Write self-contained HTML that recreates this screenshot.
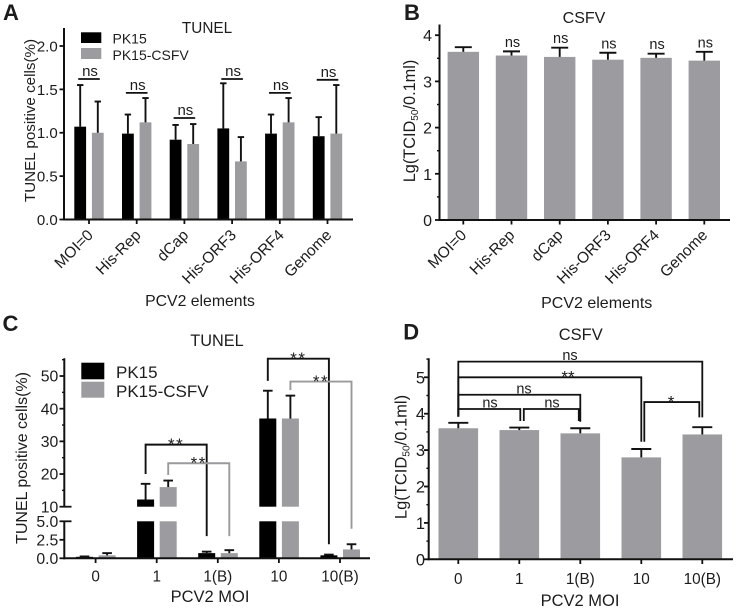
<!DOCTYPE html>
<html lang="en">
<head>
<meta charset="utf-8">
<title>PCV2 TUNEL and CSFV panels</title>
<style>
html,body{margin:0;padding:0;background:#fff;width:738px;height:610px;overflow:hidden}
svg{display:block}
text{font-family:"Liberation Sans",Arial,sans-serif;fill:#1c1c1c}
</style>
</head>
<body>
<svg id="figure" width="738" height="610" viewBox="0 0 738 610" xmlns="http://www.w3.org/2000/svg">
  <g id="panel-a"></g>
  <g id="panel-b"></g>
  <g id="panel-c"></g>
  <g id="panel-d"></g>
</svg>
<script>
// Panel A data
const catsAB = ['MOI=0', 'His-Rep', 'dCap', 'His-ORF3', 'His-ORF4', 'Genome'];
const ticksA = ['0.0', '0.5', '1.0', '1.5', '2.0'];
const aBlack = [1.07, 0.99, 0.92, 1.05, 0.99, 0.96];
const aBlackTop = [1.55, 1.21, 1.09, 1.57, 1.21, 1.18];
const aGray = [1.00, 1.12, 0.87, 0.67, 1.12, 0.99];
const aGrayTop = [1.36, 1.40, 1.10, 0.95, 1.40, 1.55];
const aNs = [1.62, 1.46, 1.17, 1.62, 1.46, 1.61];
// Panel B data
const ticksB = ['0', '1', '2', '3', '4'];
const bVals = [3.64, 3.56, 3.53, 3.47, 3.51, 3.45];
const bTop = [3.74, 3.65, 3.73, 3.62, 3.60, 3.64];
const bSig = ['', 'ns', 'ns', 'ns', 'ns', 'ns'];
// Panel C data
const catsCD = ['0', '1', '1(B)', '10', '10(B)'];
const ticksCLow = ['0.0', '2.5', '5.0'];
const ticksCHigh = ['10', '20', '30', '40', '50'];
const cBlack = [0.2, 12.2, 0.7, 37, 0.4];
const cBlackTop = [0.25, 17, 0.9, 45.5, 0.5];
const cGray = [0.4, 16, 0.7, 37, 1.2];
const cGrayTop = [0.7, 18, 1.1, 44, 1.9];
// from category, to category, series, bracket top, left drop, right drop (low scale)
const cBrackets = [
  [1, 2, 'black', 29, 20, 3.0],
  [1, 2, 'gray', 23.3, 19.7, 3.0],
  [3, 4, 'black', 55.3, 48.5, 1.9],
  [3, 4, 'gray', 48.3, 45.7, 4.0]
];
// Panel D data
const ticksD = ['0', '1', '2', '3', '4', '5'];
const dVals = [3.60, 3.55, 3.46, 2.80, 3.43];
const dTop = [3.75, 3.62, 3.60, 3.03, 3.63];
// from category, to category, top, left drop, right drop, label
const dBrackets = [
  [0, 4, 5.43, 3.92, 3.90, 'ns'],
  [0, 3, 5.00, 3.92, 3.23, '**'],
  [0, 2, 4.52, 3.92, 3.78, 'ns'],
  [0, 1, 4.13, 3.92, 3.80, 'ns'],
  [1, 2, 4.13, 3.80, 3.80, 'ns'],
  [3, 4, 4.32, 3.23, 3.90, '*']
];

const NS = 'http://www.w3.org/2000/svg';
const INK = '#111';
const BAR_GRAY = '#9c9ca0';
const AXIS_W = 2;

function add(parent, tag, attrs, name) {
  const el = document.createElementNS(NS, tag);
  for (const k in attrs) el.setAttribute(k, attrs[k]);
  
  
  parent.appendChild(el);
  return el;
}
function line(p, x1, y1, x2, y2, name, w, color) {
  return add(p, 'line', {x1, y1, x2, y2, stroke: color || INK, 'stroke-width': w || 1.8}, name);
}
function rect(p, x, y, w, h, fill, name) {
  return add(p, 'rect', {x, y, width: w, height: h, fill}, name);
}
function label(p, x, y, str, size, anchor, name, extra) {
  const t = add(p, 'text', Object.assign({x, y, 'font-size': size, 'text-anchor': anchor || 'middle'}, extra || {}), name);
  t.textContent = str;
  return t;
}
function errorBar(p, x, yBase, yTop, cap, name) {
  line(p, x, yBase, x, yTop, name + '-stem', 1.9);
  line(p, x - cap, yTop, x + cap, yTop, name + '-cap', 1.9);
}
function yLabelTcid(p, x, y, size) {
  const t = add(p, 'text', {transform: 'translate(' + x + ',' + y + ') rotate(-90)', 'font-size': size, 'text-anchor': 'middle'}, 'y-axis-title');
  const a = document.createElementNS(NS, 'tspan');
  a.textContent = 'Lg(TCID';
  t.appendChild(a);
  const b = document.createElementNS(NS, 'tspan');
  b.setAttribute('font-size', size * 0.62);
  b.setAttribute('dy', 3);
  b.textContent = '50';
  t.appendChild(b);
  const c = document.createElementNS(NS, 'tspan');
  c.setAttribute('dy', -3);
  c.textContent = '/0.1ml)';
  t.appendChild(c);
}
function rotLabel(p, x, y, str, size) {
  add(p, 'text', {transform: 'translate(' + x + ',' + y + ') rotate(-45)', 'font-size': size, 'text-anchor': 'end'}, 'x-tick-label').textContent = str;
}

/* ---------- Panel A ---------- */
(function () {
  const p = document.getElementById('panel-a');
  const yA = v => 219.5 - v * 86.75;
  const xA = i => 89 + i * 47.7;
  label(p, 3, 20, 'A', 22, 'start', 'panel-letter-a', {'font-weight': 'bold'});
  label(p, 207, 33, 'TUNEL', 15.3, 'middle', 'chart-title');
  catsAB.forEach((c, i) => {
    const bx = xA(i) - 8.8, gx = xA(i) + 8.8;
    rect(p, bx - 5.9, yA(aBlack[i]), 11.8, yA(0) - yA(aBlack[i]), '#000', 'bar-pk15-' + i);
    rect(p, gx - 5.9, yA(aGray[i]), 11.8, yA(0) - yA(aGray[i]), BAR_GRAY, 'bar-pk15-csfv-' + i);
    errorBar(p, bx, yA(aBlack[i]), yA(aBlackTop[i]), 3.2, 'error-pk15-' + i);
    errorBar(p, gx, yA(aGray[i]), yA(aGrayTop[i]), 3.2, 'error-pk15-csfv-' + i);
    line(p, xA(i) - 10.8, yA(aNs[i]), xA(i) + 10.8, yA(aNs[i]), 'ns-line-' + i);
    label(p, xA(i) + 1, yA(aNs[i]) - 3, 'ns', 15, 'middle', 'ns-label-' + i);
    line(p, xA(i), 219.5, xA(i), 224, 'x-tick-' + i);
    rotLabel(p, xA(i) + 5, 236, c, 15.5);
  });
  line(p, 64, 28, 64, 220.5, 'y-axis', AXIS_W);
  line(p, 63, 219.5, 353, 219.5, 'x-axis', AXIS_W);
  ticksA.forEach(t => {
    const y = yA(parseFloat(t));
    line(p, 59.5, y, 64, y, 'y-tick');
    label(p, 57.7, y + 5.4, t, 15, 'end', 'y-tick-label');
  });
  add(p, 'text', {transform: 'translate(35,120.5) rotate(-90)', 'font-size': 15.2, 'text-anchor': 'middle'}, 'y-axis-title').textContent = 'TUNEL positive cells(%)';
  label(p, 200, 306, 'PCV2 elements', 15.8, 'middle', 'x-axis-title');
  rect(p, 81, 32.3, 20.3, 10.7, '#000', 'legend-swatch-pk15');
  rect(p, 81, 48, 20.3, 11, BAR_GRAY, 'legend-swatch-pk15-csfv');
  label(p, 112.5, 43.5, 'PK15', 14, 'start', 'legend-label-pk15');
  label(p, 112.5, 60, 'PK15-CSFV', 14, 'start', 'legend-label-pk15-csfv');
})();

/* ---------- Panel B ---------- */
(function () {
  const p = document.getElementById('panel-b');
  const yB = v => 220 - v * 46.2;
  const xB = i => 463.3 + i * 48.2;
  label(p, 404, 20, 'B', 22, 'start', 'panel-letter-b', {'font-weight': 'bold'});
  label(p, 584, 23, 'CSFV', 16, 'middle', 'chart-title');
  catsAB.forEach((c, i) => {
    rect(p, xB(i) - 15.7, yB(bVals[i]), 31.4, yB(0) - yB(bVals[i]), BAR_GRAY, 'bar-' + i);
    errorBar(p, xB(i), yB(bVals[i]), yB(bTop[i]), 8.5, 'error-' + i);
    if (bSig[i]) label(p, xB(i) + 1, yB(bTop[i]) - 4.5, bSig[i], 14.5, 'middle', 'ns-label-' + i);
    line(p, xB(i), 220, xB(i), 224.5, 'x-tick-' + i);
    rotLabel(p, xB(i) + 4, 236, c, 15.5);
  });
  line(p, 439.5, 24.5, 439.5, 221, 'y-axis', AXIS_W);
  line(p, 438.5, 220, 730, 220, 'x-axis', AXIS_W);
  ticksB.forEach(t => {
    const v = parseFloat(t);
    line(p, 435, yB(v), 439.5, yB(v), 'y-tick');
    label(p, 432, yB(v) + 6, t, 16, 'end', 'y-tick-label');
    if (v < 4) line(p, 437, yB(v + 0.5), 439.5, yB(v + 0.5), 'y-minor-tick', 1.4);
  });
  yLabelTcid(p, 415, 121, 16.3);
  label(p, 596.7, 308, 'PCV2 elements', 16, 'middle', 'x-axis-title');
})();

/* ---------- Panel C ---------- */
(function () {
  const p = document.getElementById('panel-c');
  const yLow = v => 558.3 - v * 7.4;
  const yHigh = v => 506.7 - (v - 10) * 3.267;
  const yC = v => v <= 5 ? yLow(v) : yHigh(v);
  const xC = i => 95.8 + i * 61.1;
  const off = {black: -11.3, gray: 11.3};
  label(p, 2.5, 331, 'C', 22, 'start', 'panel-letter-c', {'font-weight': 'bold'});
  label(p, 217, 346, 'TUNEL', 16.3, 'middle', 'chart-title');

  function brokenBar(cx, v, fill, name) {
    const w = 17;
    rect(p, cx - w / 2, yLow(Math.min(v, 5)), w, yLow(0) - yLow(Math.min(v, 5)), fill, name + '-lower');
    if (v > 10) rect(p, cx - w / 2, yHigh(v), w, yHigh(10) - yHigh(v), fill, name + '-upper');
  }
  catsCD.forEach((c, i) => {
    const bx = xC(i) + off.black, gx = xC(i) + off.gray;
    brokenBar(bx, cBlack[i], '#000', 'bar-pk15-' + i);
    brokenBar(gx, cGray[i], BAR_GRAY, 'bar-pk15-csfv-' + i);
    errorBar(p, bx, yC(cBlack[i]), yC(cBlackTop[i]), 4.8, 'error-pk15-' + i);
    errorBar(p, gx, yC(cGray[i]), yC(cGrayTop[i]), 4.8, 'error-pk15-csfv-' + i);
    line(p, xC(i) - 0.2, 558.3, xC(i) - 0.2, 563, 'x-tick-' + i);
    label(p, xC(i) - 0.2, 581.7, c, 15.3, 'middle', 'x-tick-label-' + i);
  });
  cBrackets.forEach((b, n) => {
    const col = b[2] === 'black' ? INK : '#9a9a9d';
    const x1 = xC(b[0]) + off[b[2]], x2 = xC(b[1]) + off[b[2]];
    add(p, 'polyline', {
      points: x1 + ',' + yHigh(b[4]) + ' ' + x1 + ',' + yHigh(b[3]) + ' ' + x2 + ',' + yHigh(b[3]) + ' ' + x2 + ',' + yLow(b[5]),
      fill: 'none', stroke: col, 'stroke-width': 1.9
    }, 'significance-bracket-' + n);
    label(p, (x1 + x2) / 2, yHigh(b[3]) + 5.4, '**', 17, 'middle', 'significance-stars-' + n, {'letter-spacing': 1.5});
  });
  line(p, 64.3, 358.3, 64.3, 506.7, 'y-axis-upper', AXIS_W);
  line(p, 64.3, 521.3, 64.3, 559.3, 'y-axis-lower', AXIS_W);
  line(p, 63.3, 558.3, 370, 558.3, 'x-axis', AXIS_W);
  ticksCLow.forEach(t => {
    const v = parseFloat(t);
    line(p, 59.5, yLow(v), v === 5 ? 71.5 : 64.3, yLow(v), 'y-tick');
    label(p, 58.3, yLow(v) + 5.6, t, 15.8, 'end', 'y-tick-label');
  });
  ticksCHigh.forEach(t => {
    const v = parseFloat(t);
    line(p, 59.5, yHigh(v), v === 10 ? 71.5 : 64.3, yHigh(v), 'y-tick');
    label(p, 58.3, yHigh(v) + 5.6, t, 15.8, 'end', 'y-tick-label');
    line(p, 62, yHigh(v + 5), 64.3, yHigh(v + 5), 'y-minor-tick', 1.4);
  });
  add(p, 'text', {transform: 'translate(27,458) rotate(-90)', 'font-size': 16, 'text-anchor': 'middle'}, 'y-axis-title').textContent = 'TUNEL positive cells(%)';
  label(p, 210, 602, 'PCV2 MOI', 16.5, 'middle', 'x-axis-title');
  rect(p, 81.3, 362.7, 23, 16.6, '#000', 'legend-swatch-pk15');
  rect(p, 81.3, 381.7, 23, 16, BAR_GRAY, 'legend-swatch-pk15-csfv');
  label(p, 116, 378, 'PK15', 17, 'start', 'legend-label-pk15');
  label(p, 116, 397, 'PK15-CSFV', 17, 'start', 'legend-label-pk15-csfv');
})();

/* ---------- Panel D ---------- */
(function () {
  const p = document.getElementById('panel-d');
  const yD = v => 559.3 - v * 36.4;
  const xD = i => 458.3 + i * 61;
  label(p, 403.3, 339.5, 'D', 22, 'start', 'panel-letter-d', {'font-weight': 'bold'});
  label(p, 580.7, 340, 'CSFV', 16.5, 'middle', 'chart-title');
  catsCD.forEach((c, i) => {
    rect(p, xD(i) - 19.8, yD(dVals[i]), 39.6, yD(0) - yD(dVals[i]), BAR_GRAY, 'bar-' + i);
    errorBar(p, xD(i), yD(dVals[i]), yD(dTop[i]), 10, 'error-' + i);
    line(p, xD(i), 559.3, xD(i), 564, 'x-tick-' + i);
    label(p, xD(i), 584, c, 15.3, 'middle', 'x-tick-label-' + i);
  });
  dBrackets.forEach((b, n) => {
    const inset1 = n === 4 ? 4.5 : n === 5 ? 3 : 0;
    const inset2 = n === 3 ? 1 : n === 4 ? -1.5 : n === 5 ? -3 : 0;
    const x1 = xD(b[0]) + inset1, x2 = xD(b[1]) + inset2;
    add(p, 'polyline', {
      points: x1 + ',' + yD(b[3]) + ' ' + x1 + ',' + yD(b[2]) + ' ' + x2 + ',' + yD(b[2]) + ' ' + x2 + ',' + yD(b[4]),
      fill: 'none', stroke: INK, 'stroke-width': 1.8
    }, 'significance-bracket-' + n);
    const isNs = b[5] === 'ns';
    const lx = n === 0 ? 570 : n === 1 ? 568 : n === 2 ? 524 : n === 3 ? 490 : n === 4 ? 552 : 671;
    label(p, lx, isNs ? yD(b[2]) - 1.5 : yD(b[2]) + 5.2, b[5], isNs ? 14.5 : 17, 'middle', 'significance-label-' + n);
  });
  line(p, 428.7, 358.3, 428.7, 560.3, 'y-axis', AXIS_W);
  line(p, 427.7, 559.3, 733, 559.3, 'x-axis', AXIS_W);
  ticksD.forEach(t => {
    const v = parseFloat(t);
    line(p, 424, yD(v), 428.7, yD(v), 'y-tick');
    label(p, 425, yD(v) + 6, t, 16.5, 'end', 'y-tick-label');
    line(p, 426.4, yD(v + 0.5), 428.7, yD(v + 0.5), 'y-minor-tick', 1.4);
  });
  yLabelTcid(p, 406.7, 457, 16.5);
  label(p, 580, 606, 'PCV2 MOI', 16.5, 'middle', 'x-axis-title');
})();
</script>
</body>
</html>
